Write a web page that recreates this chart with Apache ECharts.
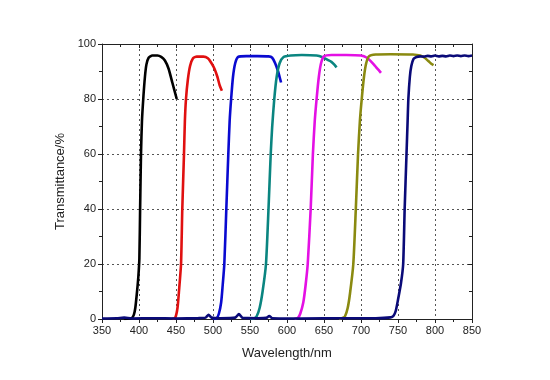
<!DOCTYPE html>
<html>
<head>
<meta charset="utf-8">
<script src="https://cdn.jsdelivr.net/npm/echarts@6/dist/echarts.min.js"></script>
<style>html,body{margin:0;padding:0;background:#fff}#c{width:550px;height:380px}</style>
</head>
<body>
<div id="c"></div>
<script>
const xTicks = [350, 400, 450, 500, 550, 600, 650, 700, 750, 800, 850];
const yTicks = [0, 20, 40, 60, 80, 100];

const blackFilter = [[380,0],[390,0.3],[393,1.5],[395,4],[397,9],[399,15],[400.5,22],[401.5,40],[402.7,60],[404,72],[406,81],[408,88],[410,92.5],[413,95],[418,95.8],[425,95.8],[430,95.3],[435,94],[440,91],[445,86],[451,80]];
const redFilter = [[445,0],[449,0.5],[452,4],[454,10],[456.8,20],[458.5,40],[460.8,60],[462,72],[463.5,80],[466,87],[469,92],[473,94.8],[478,95.4],[487,95.4],[493,94.8],[498,93],[502,91],[506,88],[509,85],[512,83]];
const blueFilter = [[500,0],[505,0.3],[508,2],[511,6],[513,12],[515.3,20],[518,40],[520.7,60],[522.5,72],[524.5,80],[527,88],[530,93],[534,95.3],[545,95.6],[560,95.6],[575,95.5],[580,95],[584,93],[588,90],[591,87],[592,86]];
const tealFilter = [[550,0],[556,0.3],[559,1],[563,4],[567,10],[571.6,20],[575,40],[578,60],[580,70],[582.8,80],[586,88],[590,93],[595,95.2],[605,95.8],[620,96],[640,95.8],[648,95.2],[655,94.2],[660,93.5],[664,92.5],[667,91.5]];
const magentaFilter = [[610,0],[615,0.5],[618,2],[622,6],[625,12],[628,20],[632,40],[635,60],[637.5,72],[640,80],[643,88],[646,93],[650,95.5],[660,96],[680,96],[700,95.8],[708,95],[714,93.5],[719,92],[724,90.5],[727,89.5]];
const oliveFilter = [[670,0],[675,0.4],[678.4,1],[682,4],[685,9],[689.6,20],[693,40],[696,60],[698.5,72],[701,80],[704,88],[707,93],[711,95.6],[720,96.2],[740,96.3],[770,96.2],[780,95.8],[786,95],[791,93.8],[795,92.8],[798,92.3]];
const navyFilter = [[350,0.2],[370,0.3],[380,0.5],[390,0.2],[420,0.3],[450,0.2],[480,0.3],[490,0.5],[494,1.5],[498,0.5],[510,0.3],[530,0.5],[535,1.8],[540,0.4],[560,0.3],[572,0.4],[576,1.1],[580,0.3],[620,0.2],[680,0.3],[720,0.3],[740,0.6],[744,1.2],[747,3],[750,7],[754,13],[757,20],[759,40],[761.5,60],[763,72],[764,80],[766,88],[768,92],[771,94.6],[775,95.3],[780,95.5],[785,95.4],[790,95.7],[795,95.5],[800,95.8],[805,95.5],[810,95.7],[815,95.5],[820,95.8],[825,95.6],[830,95.8],[835,95.6],[840,95.8],[845,95.6],[850,95.8]];

const seriesDefs = [
  {name: 'black', data: blackFilter, color: '#000000'},
  {name: 'red', data: redFilter, color: '#e01010'},
  {name: 'blue', data: blueFilter, color: '#0a0ad0'},
  {name: 'teal', data: tealFilter, color: '#0a8580'},
  {name: 'magenta', data: magentaFilter, color: '#e410e4'},
  {name: 'olive', data: oliveFilter, color: '#8a8a10'},
  {name: 'navy', data: navyFilter, color: '#0a0a78'}
];

const labelStyle = {color: '#222', fontSize: 11, fontFamily: 'Liberation Sans, Arial, sans-serif'};

const chart = echarts.init(document.getElementById('c'), null, {renderer: 'canvas'});
chart.setOption({
  animation: false,
  backgroundColor: '#fff',
  grid: {left: 102, right: 78, top: 44, bottom: 61},
  xAxis: [{
    type: 'value', min: 350, max: 850, interval: 50,
    name: 'Wavelength/nm', nameLocation: 'middle', nameGap: 28,
    nameTextStyle: {color: '#222', fontSize: 13, fontFamily: 'Liberation Sans, Arial, sans-serif'},
    axisLine: {show: true, onZero: false, lineStyle: {color: '#222', width: 1}},
    axisTick: {show: true, inside: false, length: 4, lineStyle: {color: '#222'}},
    minorTick: {show: true, splitNumber: 2, length: 3, lineStyle: {color: '#222'}},
    axisLabel: Object.assign({margin: 6}, labelStyle),
    splitLine: {show: true, lineStyle: {color: '#555', type: [2, 3], width: 1}}
  }, {
    type: 'value', min: 350, max: 850, interval: 50, position: 'top',
    axisLine: {show: true, onZero: false, lineStyle: {color: '#222', width: 1}},
    axisTick: {show: true, inside: true, length: 4, lineStyle: {color: '#222'}},
    minorTick: {show: true, splitNumber: 2, length: 3, lineStyle: {color: '#222'}},
    axisLabel: {show: false}, splitLine: {show: false}
  }],
  yAxis: [{
    type: 'value', min: 0, max: 100, interval: 20,
    name: 'Transmittance/%', nameLocation: 'middle', nameGap: 31,
    nameTextStyle: {color: '#222', fontSize: 13, fontFamily: 'Liberation Sans, Arial, sans-serif'},
    axisLine: {show: true, onZero: false, lineStyle: {color: '#222', width: 1}},
    axisTick: {show: true, inside: false, length: 4, lineStyle: {color: '#222'}},
    minorTick: {show: true, splitNumber: 2, length: 3, lineStyle: {color: '#222'}},
    axisLabel: Object.assign({margin: 6}, labelStyle),
    splitLine: {show: true, lineStyle: {color: '#555', type: [2, 3], width: 1}}
  }, {
    type: 'value', min: 0, max: 100, interval: 20, position: 'right',
    axisLine: {show: true, onZero: false, lineStyle: {color: '#222', width: 1}},
    axisTick: {show: true, inside: true, length: 4, lineStyle: {color: '#222'}},
    minorTick: {show: true, splitNumber: 2, length: 3, lineStyle: {color: '#222'}},
    axisLabel: {show: false}, splitLine: {show: false}
  }],
  series: seriesDefs.map(s => ({
    name: s.name, type: 'line', data: s.data, showSymbol: false, symbol: 'none',
    smooth: 0.2, lineStyle: {color: s.color, width: 2.6}, itemStyle: {color: s.color},
    clip: true
  }))
});
</script>
</body>
</html>
